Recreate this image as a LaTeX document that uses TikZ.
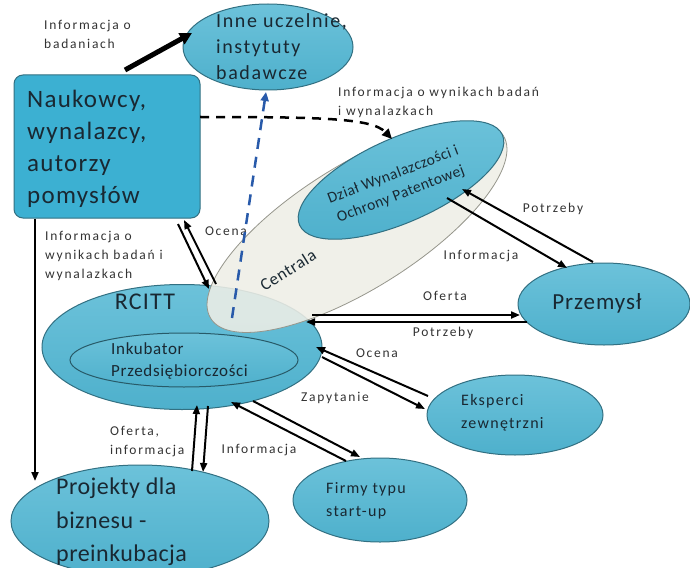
\documentclass[tikz,border=0pt]{standalone}
\usepackage{fontspec}
\setmainfont{Carlito}
\usetikzlibrary{shapes.geometric,arrows.meta}
\definecolor{ttop}{RGB}{108,194,218}
\definecolor{tbot}{RGB}{78,176,204}
\definecolor{nfill}{RGB}{60,176,210}
\definecolor{tedge}{RGB}{50,112,130}
\definecolor{cfill}{RGB}{238,238,230}
\definecolor{cedge}{RGB}{150,150,140}
\definecolor{bdash}{RGB}{40,90,170}
\definecolor{txt}{RGB}{25,40,50}
\newcommand{\fs}[3]{\fontsize{#1}{#2}\selectfont\addfontfeature{LetterSpace=#3}}
\begin{document}
\begin{tikzpicture}[x=1pt,y=-1pt,
 bub/.style={ellipse, draw=tedge, top color=ttop, bottom color=tbot, line width=1pt, inner sep=0},
 lbl/.style={font=\fs{13.5}{19}{13}, text=black!80, inner sep=0, align=left},
 txtn/.style={text=txt, inner sep=0, align=left},
 arr/.style={line width=2pt, -{Triangle[length=9pt,width=7pt]}},
]
\useasboundingbox (0,0) rectangle (690,567);
\fill[white] (0,0) rectangle (690,567);

% nodes
\node[draw=tedge, fill=nfill, line width=1pt, rounded corners=9pt, minimum width=186pt, minimum height=143pt, inner sep=0] (nauk) at (107,146.5) {};
\node[txtn, font=\fs{25}{32}{5}, anchor=west] (naukt) at (27,149) {Naukowcy,\\wynalazcy,\\autorzy\\pomysłów};

\node[bub, minimum width=170pt, minimum height=86pt] (inne) at (268,47) {};
\node[txtn, font=\fs{20}{26}{8}, anchor=west] (innet) at (216,47) {Inne uczelnie,\\instytuty\\badawcze};

\node[bub, minimum width=280pt, minimum height=125pt] (rcitt) at (182,347) {};
\node[txtn, font=\fs{24}{28}{5}] (rcittt) at (145,302) {RCITT};
\node[bub, draw=tedge!80!black, minimum width=228pt, minimum height=54pt] (inkub) at (184,360) {};
\node[txtn, font=\fs{17}{22}{4}, anchor=west] (inkubt) at (111,361) {Inkubator\\Przedsiębiorczości};

\node[ellipse, draw=cedge, fill=cfill, fill opacity=0.88, line width=0.8pt, minimum width=345pt, minimum height=124pt, rotate=32, inner sep=0] (centr) at (357,227) {};
\node[txtn, font=\fs{17}{20}{4}, rotate=32] (centrt) at (288,270) {Centrala};

\node[bub, minimum width=222pt, minimum height=84pt, rotate=24] (dzial) at (401,180) {};
\node[txtn, align=center, font=\fs{15.5}{21}{3}, rotate=21] (dzialt) at (397,185) {Dział Wynalazczości i\\Ochrony Patentowej};

\node[bub, minimum width=172pt, minimum height=82pt] (przem) at (604,304) {};
\node[txtn, font=\fs{23}{26}{4}] (przemt) at (597,303) {Przemysł};

\node[bub, minimum width=176pt, minimum height=80pt] (eksp) at (515,415) {};
\node[txtn, font=\fs{16}{23}{8}, anchor=west] (ekspt) at (461,413) {Eksperci\\zewnętrzni};

\node[bub, minimum width=174pt, minimum height=84pt] (firmy) at (380,500) {};
\node[txtn, font=\fs{16}{23}{8}, anchor=west] (firmyt) at (326,501) {Firmy typu\\start-up};

\node[bub, minimum width=258pt, minimum height=112pt] (proj) at (140,521) {};
\node[txtn, font=\fs{24}{33.5}{2}, anchor=west] (projt) at (56,522) {Projekty dla\\biznesu -\\preinkubacja};

% labels
\node[lbl, anchor=west] (l1) at (44,34) {Informacja o\\badaniach};
\node[lbl, anchor=west] (l2) at (338,102) {Informacja o wynikach badań\\i wynalazkach};
\node[lbl, anchor=west] (l3) at (45,256) {Informacja o\\wynikach badań i\\wynalazkach};
\node[lbl] (l4) at (226,231) {Ocena};
\node[lbl] (l5) at (553,209) {Potrzeby};
\node[lbl] (l6) at (481,256) {Informacja};
\node[lbl] (l7) at (445,296) {Oferta};
\node[lbl] (l8) at (443,333) {Potrzeby};
\node[lbl] (l9) at (377,353) {Ocena};
\node[lbl] (l10) at (335,398) {Zapytanie};
\node[lbl] (l11) at (259,450) {Informacja};
\node[lbl, anchor=west] (l12) at (110,442) {Oferta,\\informacja};

% connector end points
\coordinate (a1s) at (125,70); \coordinate (a1e) at (192,33);
\coordinate (d1s) at (200,117); \coordinate (d1e) at (392,139);
\coordinate (b1s) at (232,318); \coordinate (b1e) at (266,92);
\coordinate (o1s) at (178,224); \coordinate (o1e) at (209,289);
\coordinate (o2s) at (216,284); \coordinate (o2e) at (184,220);
\coordinate (v1s) at (35,219); \coordinate (v1e) at (35,481);
\coordinate (p1s) at (447,198); \coordinate (p1e) at (567,268);
\coordinate (p2s) at (593,262); \coordinate (p2e) at (462,189);
\coordinate (r1s) at (312,315); \coordinate (r1e) at (520,315);
\coordinate (r2s) at (527,322); \coordinate (r2e) at (306,322);
\coordinate (e1s) at (428,396); \coordinate (e1e) at (316,347);
\coordinate (e2s) at (322,357); \coordinate (e2e) at (425,409);
\coordinate (f1s) at (346,461); \coordinate (f1e) at (231,402);
\coordinate (f2s) at (253,401); \coordinate (f2e) at (360,457);
\coordinate (j1s) at (192,471); \coordinate (j1e) at (197,405);
\coordinate (j2s) at (208,406); \coordinate (j2e) at (203,472);

% connectors
\draw[line width=5pt, -{Triangle[length=12pt,width=12pt]}] (a1s) -- (a1e);
\draw[line width=2.5pt, dash pattern=on 9pt off 7pt, -{Triangle[length=10pt,width=9pt]}] (d1s) .. controls (320,117) and (372,118) .. (d1e);
\draw[bdash, line width=2.5pt, dash pattern=on 11pt off 8pt, -{Triangle[length=9pt,width=8pt]}] (b1s) -- (b1e);
\draw[arr] (o1s) -- (o1e);
\draw[arr] (o2s) -- (o2e);
\draw[arr] (v1s) -- (v1e);
\draw[arr] (p1s) -- (p1e);
\draw[arr] (p2s) -- (p2e);
\draw[arr] (r1s) -- (r1e);
\draw[arr] (r2s) -- (r2e);
\draw[arr] (e1s) -- (e1e);
\draw[arr] (e2s) -- (e2e);
\draw[arr] (f1s) -- (f1e);
\draw[arr] (f2s) -- (f2e);
\draw[arr] (j1s) -- (j1e);
\draw[arr] (j2s) -- (j2e);
\end{tikzpicture}
\end{document}
